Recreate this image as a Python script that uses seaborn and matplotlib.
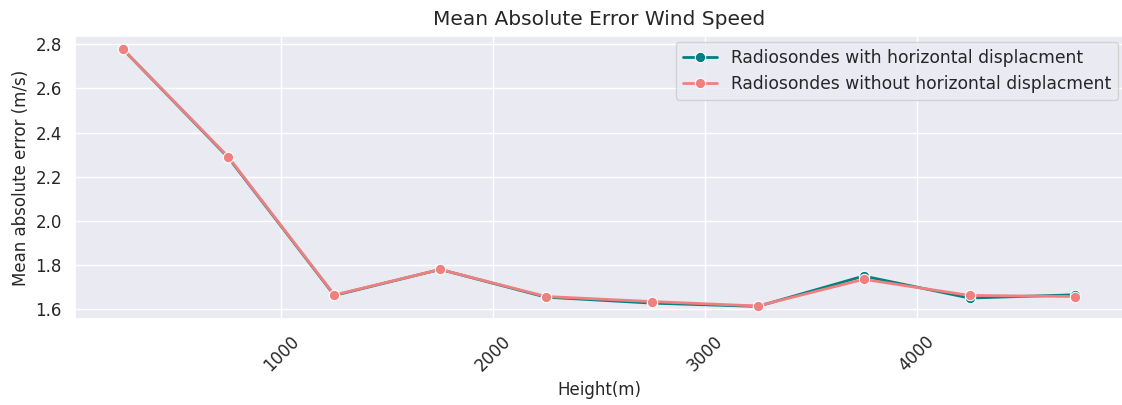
import numpy as np
import pandas as pd
import matplotlib
matplotlib.use("Agg")
import matplotlib.pyplot as plt
import seaborn as sns

heights = [250, 750, 1250, 1750, 2250, 2750, 3250, 3750, 4250, 4750]
mae_with = [2.78, 2.285, 1.66, 1.778, 1.652, 1.625, 1.61, 1.748, 1.648, 1.663]
mae_without = [2.78, 2.288, 1.662, 1.778, 1.655, 1.632, 1.612, 1.733, 1.66, 1.655]
labels = ["Radiosondes with horizontal displacment", "Radiosondes without horizontal displacment"]
colors = ["teal", "lightcoral"]

sns.set_theme(style="darkgrid")
fig = plt.figure(figsize=(11.22, 4.05), dpi=100)
W, H = 1122, 405
ax = fig.add_axes([75 / W, 1 - 319.3 / H, (1123 - 75) / W, (319.3 - 36) / H])
for vals, lab, col in zip([mae_with, mae_without], labels, colors):
    sns.lineplot(x=heights, y=vals, marker="o", color=col, label=lab, ax=ax,
                 linewidth=2, markersize=7.5)
ax.set_title("Mean Absolute Error Wind Speed", fontsize=14.5, pad=8)
ax.set_xlabel("Height(m)", fontsize=12)
ax.set_ylabel("Mean absolute error (m/s)", fontsize=12)
ax.tick_params(axis="both", labelsize=12)
plt.setp(ax.get_xticklabels(), rotation=45)
ax.legend(loc="upper right", fontsize=12.3, bbox_to_anchor=(1.003, 1.009))
fig.savefig("out.png", dpi=100)
